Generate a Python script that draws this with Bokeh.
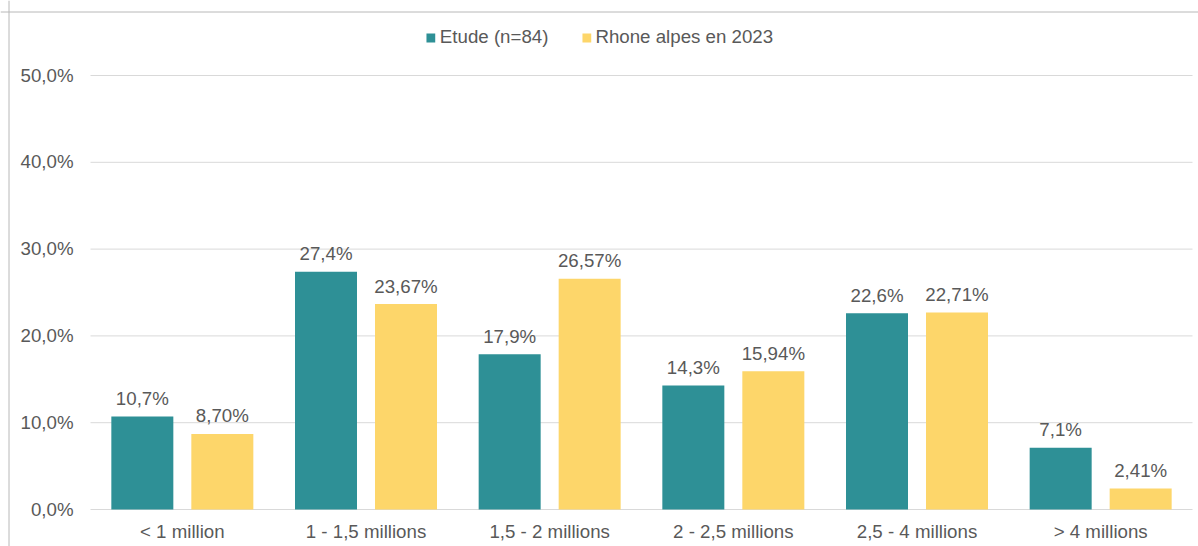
from bokeh.plotting import figure
from bokeh.models import Range1d, Legend, LegendItem, Span, ColumnDataSource
from bokeh.core.properties import value
from bokeh.embed import file_html
from bokeh.resources import INLINE

# ---- data ----
categories = ["< 1 million", "1 - 1,5 millions", "1,5 - 2 millions",
              "2 - 2,5 millions", "2,5 - 4 millions", "> 4 millions"]
etude = [10.7, 27.4, 17.9, 14.3, 22.6, 7.1]
rhone = [8.70, 23.67, 26.57, 15.94, 22.71, 2.41]
etude_labels = ["10,7%", "27,4%", "17,9%", "14,3%", "22,6%", "7,1%"]
rhone_labels = ["8,70%", "23,67%", "26,57%", "15,94%", "22,71%", "2,41%"]
y_ticks = [0, 10, 20, 30, 40, 50]
y_tick_labels = ["0,0%", "10,0%", "20,0%", "30,0%", "40,0%", "50,0%"]
series_names = ["Etude (n=84)", "Rhone alpes en 2023"]

# ---- styles ----
TEAL = "#2E9096"
YELLOW = "#FDD66A"
TEXT = "#595959"
GRID = "#D9D9D9"
BORDER = "#B8B8B8"
FONT = "Liberation Sans"
FS = "18.7px"

# ---- layout in pixels (relative to the figure) ----
W, H = 1198, 546
left_px, right_px = 90, 1192
zero_px, top_px = 509, 75
ymax = 50
ppu_y = (zero_px - top_px) / ymax
n = len(categories)
ppu_x = (right_px - left_px) / n

y_start = -(H - zero_px) / ppu_y
y_end = ymax + top_px / ppu_y
x_start = -0.5 - left_px / ppu_x
x_end = n - 0.5 + (W - right_px) / ppu_x

bar_w = 62 / ppu_x
off = 40 / ppu_x

p = figure(width=W, height=H, output_backend="svg", toolbar_location=None,
           x_range=Range1d(x_start, x_end), y_range=Range1d(y_start, y_end),
           x_axis_location=None, y_axis_location=None,
           min_border=0, min_border_left=0, min_border_right=0,
           min_border_top=0, min_border_bottom=0)
p.outline_line_color = None
p.grid.visible = False
p.background_fill_color = "white"
p.border_fill_color = "white"

idx = list(range(n))
gl_x0 = [-0.5] * len(y_ticks)
gl_x1 = [n - 0.5] * len(y_ticks)
p.segment(x0=gl_x0, x1=gl_x1, y0=y_ticks, y1=y_ticks, line_color=GRID, line_width=1)

src1 = ColumnDataSource(dict(x=[i - off for i in idx], top=etude, lab=etude_labels))
src2 = ColumnDataSource(dict(x=[i + off for i in idx], top=rhone, lab=rhone_labels))
r1 = p.vbar(x="x", top="top", bottom=0, width=bar_w, source=src1,
            fill_color=TEAL, line_color=None)
r2 = p.vbar(x="x", top="top", bottom=0, width=bar_w, source=src2,
            fill_color=YELLOW, line_color=None)

for src in (src1, src2):
    p.text(x="x", y="top", text="lab", source=src, text_align="center",
           text_baseline="alphabetic", y_offset=-18,
           text_font=value(FONT), text_font_size=value(FS), text_color=TEXT)

# category labels
p.text(x=idx, y=[0] * n, text=categories, text_align="center",
       text_baseline="alphabetic", y_offset=22,
       text_font=value(FONT), text_font_size=value(FS), text_color=TEXT)

# y tick labels
p.text(x=[-0.5] * len(y_ticks), y=y_ticks, text=y_tick_labels, text_align="right",
       text_baseline="alphabetic", x_offset=-17, y_offset=-0.5,
       text_font=value(FONT), text_font_size=value(FS), text_color=TEXT)

# chart border (top and left)
p.add_layout(Span(location=ymax + (top_px - 11.5) / ppu_y, dimension="width",
                  line_color=BORDER, line_width=1))
p.add_layout(Span(location=x_start + 8.5 / ppu_x, dimension="height",
                  line_color=BORDER, line_width=1))

legend = Legend(items=[LegendItem(label=series_names[0], renderers=[r1]),
                       LegendItem(label=series_names[1], renderers=[r2])],
                location="top_center", orientation="horizontal",
                glyph_width=11, glyph_height=11, label_standoff=4, spacing=32,
                margin=26, padding=8, border_line_color=None,
                background_fill_alpha=0,
                label_text_font=FONT, label_text_font_size=FS,
                label_text_color=TEXT)
p.add_layout(legend)

open("out.html", "w").write(file_html(p, INLINE))
